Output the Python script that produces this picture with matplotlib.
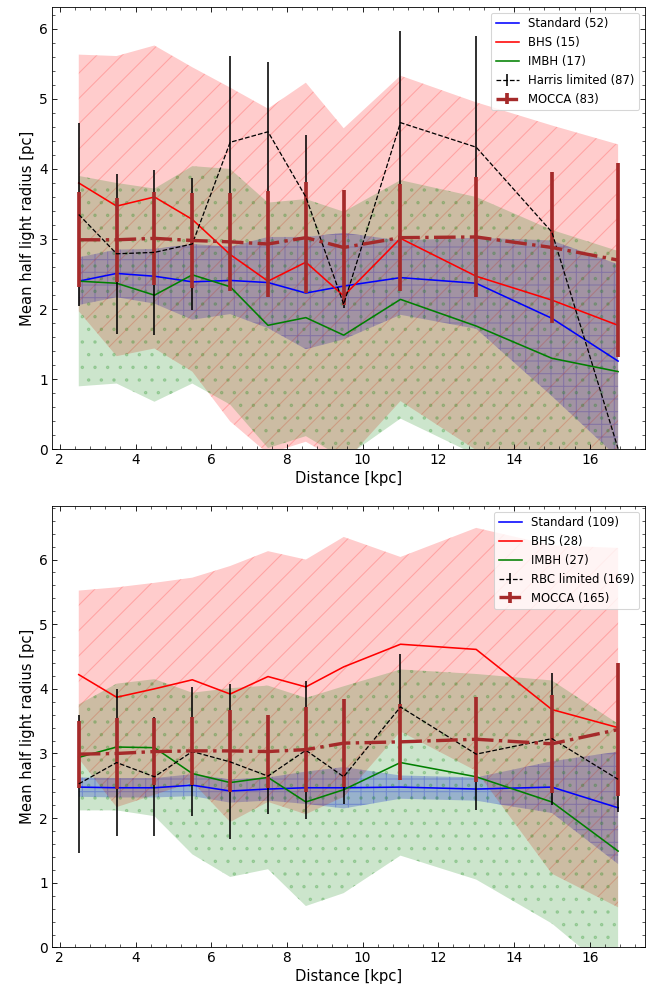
import matplotlib
matplotlib.use("Agg")
import numpy as np
import matplotlib.pyplot as plt
from matplotlib.ticker import AutoMinorLocator

# distance bins [kpc]
dist = [2.5, 3.5, 4.5, 5.5, 6.5, 7.5, 8.5, 9.5, 11, 13, 15, 16.75]

# upper panel: Harris catalogue comparison
std_mean_h = [2.40, 2.51, 2.47, 2.39, 2.41, 2.38, 2.23, 2.33, 2.45, 2.37, 1.87, 1.26]
std_sd_h = [0.34, 0.34, 0.39, 0.54, 0.48, 0.65, 0.80, 0.76, 0.53, 0.65, 1.11, 1.38]
bhs_mean_h = [3.80, 3.47, 3.60, 3.28, 2.78, 2.40, 2.67, 2.19, 3.01, 2.47, 2.13, 1.77]
bhs_sd_h = [1.83, 2.14, 2.16, 2.17, 2.38, 2.46, 2.56, 2.39, 2.32, 2.48, 2.49, 2.58]
imbh_mean_h = [2.40, 2.37, 2.20, 2.49, 2.32, 1.77, 1.88, 1.63, 2.14, 1.76, 1.30, 1.11]
imbh_sd_h = [1.50, 1.43, 1.52, 1.55, 1.68, 1.75, 1.69, 1.76, 1.70, 1.84, 1.83, 1.72]
harris_mean = [3.35, 2.79, 2.81, 2.93, 4.38, 4.53, 3.60, 2.07, 4.66, 4.31, 3.10, 0.01]
harris_err = [1.30, 1.14, 1.18, 0.94, 1.23, 0.99, 0.89, 0.05, 1.31, 1.58, 0.50, 0.0]
mocca_mean_h = [2.99, 2.99, 3.01, 2.98, 2.96, 2.93, 3.02, 2.88, 3.02, 3.03, 2.88, 2.70]
mocca_err_h = [0.68, 0.60, 0.66, 0.68, 0.70, 0.75, 0.79, 0.82, 0.76, 0.86, 1.08, 1.38]
counts_h = [52, 15, 17, 87, 83]

# lower panel: RBC catalogue comparison
std_mean_r = [2.48, 2.47, 2.47, 2.51, 2.42, 2.45, 2.47, 2.47, 2.48, 2.45, 2.48, 2.16]
std_sd_r = [0.15, 0.15, 0.15, 0.17, 0.18, 0.18, 0.25, 0.32, 0.18, 0.18, 0.40, 0.87]
bhs_mean_r = [4.22, 3.87, 4.00, 4.14, 3.92, 4.19, 4.03, 4.34, 4.69, 4.61, 3.68, 3.40]
bhs_sd_r = [1.30, 1.70, 1.64, 1.58, 1.98, 1.94, 1.97, 2.01, 1.35, 1.88, 2.54, 2.78]
imbh_mean_r = [2.94, 3.10, 3.09, 2.69, 2.55, 2.63, 2.25, 2.44, 2.86, 2.64, 2.25, 1.49]
imbh_sd_r = [0.82, 0.98, 1.06, 1.25, 1.46, 1.42, 1.61, 1.60, 1.44, 1.59, 1.88, 1.97]
rbc_mean = [2.53, 2.86, 2.64, 3.03, 2.87, 2.65, 3.05, 2.64, 3.72, 2.99, 3.23, 2.60]
rbc_err = [1.07, 1.14, 0.92, 1.00, 1.20, 0.58, 1.07, 0.42, 0.82, 0.87, 1.02, 0.50]
mocca_mean_r = [2.99, 3.00, 3.03, 3.04, 3.04, 3.03, 3.06, 3.16, 3.18, 3.22, 3.15, 3.37]
mocca_err_r = [0.52, 0.55, 0.52, 0.53, 0.63, 0.57, 0.66, 0.68, 0.59, 0.66, 0.76, 1.03]
counts_r = [109, 28, 27, 169, 165]


def band(ax, mean, sd, color, hatch, alpha):
    mean = np.array(mean)
    sd = np.array(sd)
    ax.fill_between(dist, mean - sd, mean + sd, facecolor=color, edgecolor=color,
                    linewidth=0, alpha=alpha, hatch=hatch)


def draw_panel(ax, std_mean, std_sd, bhs_mean, bhs_sd, imbh_mean, imbh_sd,
               obs_mean, obs_err, obs_name, mocca_mean, mocca_err, counts, ytop):
    # shaded regions: mean +/- one standard deviation of each model group
    band(ax, std_mean, std_sd, 'blue', '+', 0.25)
    band(ax, bhs_mean, bhs_sd, 'red', '/', 0.2)
    band(ax, imbh_mean, imbh_sd, 'green', '.', 0.2)

    ax.plot(dist, std_mean, c='blue', lw=1.5, label='Standard (%d)' % counts[0])
    ax.plot(dist, bhs_mean, c='red', lw=1.5, label='BHS (%d)' % counts[1])
    ax.plot(dist, imbh_mean, c='green', lw=1.5, label='IMBH (%d)' % counts[2])
    ax.errorbar(dist, obs_mean, yerr=obs_err, fmt='--', c='k', lw=1.2, elinewidth=1.5,
                label='%s limited (%d)' % (obs_name, counts[3]))
    ax.errorbar(dist, mocca_mean, yerr=mocca_err, fmt='-.', c='brown', lw=3.2,
                elinewidth=3.5, label='MOCCA (%d)' % counts[4])

    ax.set_ylim(0, ytop)
    ax.set_xlabel('Distance [kpc]', fontsize=14)
    ax.set_ylabel('Mean half light radius [pc]', fontsize=14)
    ax.xaxis.set_minor_locator(AutoMinorLocator(5))
    ax.yaxis.set_minor_locator(AutoMinorLocator(5))
    ax.tick_params(which='both', direction='in', top=True, right=True, labelsize=13)
    ax.tick_params(which='major', length=5)
    ax.tick_params(which='minor', length=2.5)
    ax.legend(loc='upper right', fontsize=11)


fig = plt.figure(figsize=(664 / 76, 990 / 76), dpi=76)
ax1 = fig.add_axes([0.078, 0.546, 0.8935, 0.447])
ax2 = fig.add_axes([0.078, 0.043, 0.8935, 0.446])

draw_panel(ax1, std_mean_h, std_sd_h, bhs_mean_h, bhs_sd_h, imbh_mean_h, imbh_sd_h,
           harris_mean, harris_err, 'Harris', mocca_mean_h, mocca_err_h, counts_h, 6.31)
draw_panel(ax2, std_mean_r, std_sd_r, bhs_mean_r, bhs_sd_r, imbh_mean_r, imbh_sd_r,
           rbc_mean, rbc_err, 'RBC', mocca_mean_r, mocca_err_r, counts_r, 6.83)

fig.savefig('out.png', dpi=76)
